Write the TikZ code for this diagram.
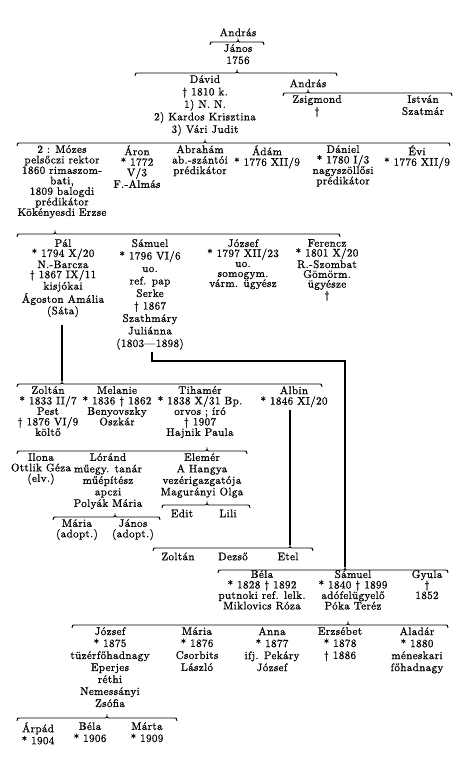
\documentclass[tikz,border=0pt]{standalone}
\usepackage{fontspec}
\setmainfont{lmroman10-regular.otf}[LetterSpace=3.5, RawFeature={embolden=1}]

% kapocs (brace): bal x, jobb x, csucs x, y, nev
\newcommand{\kapocs}[5]{%
  \draw[kapocsvonal] (#1,#4+3) .. controls (#1,#4) .. (#1+5,#4) -- (#3-4,#4)
    .. controls (#3,#4) .. (#3,#4-3.5) .. controls (#3,#4) .. (#3+4,#4)
    -- (#2-5,#4) .. controls (#2,#4) .. (#2,#4+3);
  \coordinate (#5) at (#3,#4-3.5);}

\tikzset{
  szemely/.style={align=center, inner sep=0pt, anchor=north,
    font=\fontsize{11}{10.5}\selectfont, execute at begin node={\rule{0pt}{10pt}}},
  tag/.style={szemely, font=\fontsize{11}{12}\selectfont},
  kapocsvonal/.style={line width=0.9pt},
  ag/.style={line width=1.6pt},
}

\begin{document}
\begin{tikzpicture}[x=1pt,y=-1pt]
  \useasboundingbox (0,0) rectangle (468,757);
  % os
  \node[szemely] (andras) at (238,26) {András};
  \kapocs{210}{264}{238}{42}{t-andras}
  \node[tag] (janos) at (238,44) {János\\1756};
  \kapocs{135}{337}{237}{73}{t-janos}
  % David es Andras
  \node[tag, font=\fontsize{11}{12.5}\selectfont] (david) at (205,75)
    {Dávid\\† 1810 k.\\1) N. N.\\2) Kardos Krisztina\\3) Vári Judit};
  \node[szemely] (andras2) at (308,77) {András};
  \kapocs{283}{452}{308}{93}{t-andras2}
  \node[tag] (zsigmond) at (317,95) {Zsigmond\\†};
  \node[tag] (istvan) at (423,95) {István\\Szatmár};
  % David gyermekei
  \kapocs{17}{450}{205}{143}{t-david}
  \node[szemely] (mozes) at (62,145) {2 : Mózes\\pelsőczi rektor\\1860 rimaszom-\\bati,\\1809 balogdi\\prédikátor\\Kökényesdi Erzse};
  \node[szemely] (aron) at (137,145) {Áron\\* 1772\\V/3\\F.-Almás};
  \node[szemely] (abraham) at (200,145) {Abrahám\\ab.-szántói\\prédikátor};
  \node[szemely] (adam) at (267,145) {Ádám\\* 1776 XII/9};
  \node[szemely] (daniel) at (343,145) {Dániel\\* 1780 I/3\\nagyszöllősi\\prédikátor};
  \node[szemely] (evi) at (417,145) {Évi\\* 1776 XII/9};
  % Mozes gyermekei
  \kapocs{17}{340}{55}{234}{t-mozes}
  \node[szemely, font=\fontsize{11}{10}\selectfont] (pal) at (63,239) {Pál\\* 1794 X/20\\N.-Barcza\\† 1867 IX/11\\kisjókai\\Ágoston Amália\\(Sáta)};
  \node[szemely, font=\fontsize{11}{12.5}\selectfont] (samuel) at (150,239) {Sámuel\\* 1796 VI/6\\uo.\\ref. pap\\Serke\\† 1867\\Szathmáry\\Juliánna\\(1803—1898)};
  \node[szemely, font=\fontsize{11}{10}\selectfont] (jozsef) at (243,239) {József\\* 1797 XII/23\\uo.\\somogym.\\várm. ügyész};
  \node[szemely, font=\fontsize{11}{9.8}\selectfont] (ferencz) at (327,239) {Ferencz\\* 1801 X/20\\R.-Szombat\\Gömörm.\\ügyésze\\†};
  % Pal gyermekei
  \kapocs{17}{322}{62}{384}{t-pal}
  \draw[ag] (t-pal) -- ++(0,-56);
  \node[szemely] (zoltan) at (48,386) {Zoltán\\* 1833 II/7\\Pest\\† 1876 VI/9\\költő};
  \node[szemely] (melanie) at (117,386) {Melanie\\* 1836 † 1862\\Benyovszky\\Oszkár};
  \node[szemely] (tihamer) at (200,386) {Tihamér\\* 1838 X/31 Bp.\\orvos ; író\\† 1907\\Hajnik Paula};
  \node[szemely] (albin) at (294,386) {Albin\\* 1846 XI/20};
  % Tihamer gyermekei
  \kapocs{17}{247}{207}{451}{t-tihamer}
  \node[szemely] (ilona) at (41,453) {Ilona\\Ottlik Géza\\(elv.)};
  \node[szemely, font=\fontsize{11}{11.5}\selectfont] (lorand) at (108,453) {Lóránd\\műegy. tanár\\műépítész\\apczi\\Polyák Mária};
  \node[szemely, font=\fontsize{11}{11.5}\selectfont] (elemer) at (202,453) {Elemér\\A Hangya\\vezérigazgatója\\Magurányi Olga};
  \kapocs{53}{160}{115}{517}{t-lorand}
  \node[szemely] (maria) at (77,519) {Mária\\(adopt.)};
  \node[szemely] (janos2) at (133,519) {János\\(adopt.)};
  \kapocs{162}{250}{207}{505}{t-elemer}
  \node[szemely] (edit) at (182,507) {Edit};
  \node[szemely] (lili) at (228,507) {Lili};
  % Albin gyermekei
  \kapocs{153}{313}{290}{548}{t-albin}
  \draw[ag] (t-albin) -- (t-albin |- 0,410);
  \node[szemely] (zoltan2) at (178,550) {Zoltán};
  \node[szemely] (dezso) at (233,550) {Dezső};
  \node[szemely] (etel) at (288,550) {Etel};
  % Samuel gyermekei
  \kapocs{218}{448}{345}{570}{t-samuel}
  \coordinate (s-kezd) at (152,352);
  \draw[ag] (s-kezd) -- (s-kezd |- 0,361) -| (t-samuel);
  \node[szemely] (bela) at (262,570) {Béla\\* 1828 † 1892\\putnoki ref. lelk.\\Miklovics Róza};
  \node[szemely] (samuel2) at (353,570) {Sámuel\\* 1840 † 1899\\adófelügyelő\\Póka Teréz};
  \node[szemely] (gyula) at (427,570) {Gyula\\†\\1852};
  % ifj. Samuel gyermekei
  \kapocs{72}{448}{348}{625}{t-samuel2}
  \node[tag] (jozsef2) at (110,627) {József\\* 1875\\tüzérfőhadnagy\\Eperjes\\réthi\\Nemessányi\\Zsófia};
  \node[tag] (maria2) at (197,627) {Mária\\* 1876\\Csorbits\\László};
  \node[tag] (anna) at (272,627) {Anna\\* 1877\\ifj. Pekáry\\József};
  \node[tag] (erzsebet) at (340,627) {Erzsébet\\* 1878\\† 1886};
  \node[tag] (aladar) at (417,627) {Aladár\\* 1880\\méneskari\\főhadnagy};
  % Jozsef gyermekei
  \kapocs{17}{177}{107}{718}{t-jozsef}
  \node[tag] (arpad) at (38,722) {Árpád\\* 1904};
  \node[tag] (bela2) at (90,722) {Béla\\* 1906};
  \node[tag] (marta) at (147,722) {Márta\\* 1909};
\end{tikzpicture}
\end{document}
